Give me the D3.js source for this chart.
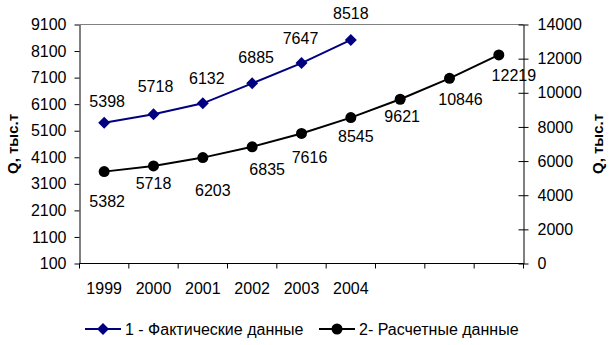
<!DOCTYPE html>
<html>
<head>
<meta charset="utf-8">
<script src="https://cdn.jsdelivr.net/npm/d3@7/dist/d3.min.js"></script>
<style>
  html, body { margin: 0; padding: 0; background: #fff; }
  svg { display: block; font-family: "Liberation Sans", Arial, sans-serif; }
</style>
</head>
<body>
<svg id="chart" width="612" height="345"></svg>
<script>
// Years on the category axis (last three are forecast years without labels)
const categories = ["1999", "2000", "2001", "2002", "2003", "2004", "2005", "2006", "2007"];
const xTickLabels = ["1999", "2000", "2001", "2002", "2003", "2004", "", "", ""];

// 1 - actual output (left axis), 2 - calculated output (right axis)
const actualValues = [5398, 5718, 6132, 6885, 7647, 8518];
const calculatedValues = [5382, 5718, 6203, 6835, 7616, 8545, 9621, 10846, 12219];

const leftTicks = [100, 1100, 2100, 3100, 4100, 5100, 6100, 7100, 8100, 9100];
const rightTicks = [0, 2000, 4000, 6000, 8000, 10000, 12000, 14000];

const seriesNames = ["1 - Фактические данные", "2- Расчетные данные"];
const axisTitle = "Q, тыс.т";

// Hand-placed data label offsets (dx, dy from the marker)
const actualLabelShift = [[3, -22], [2, -28], [4, -25], [4, -26], [-1, -25], [0, -27]];
const calcLabelShift = [[3, 30], [0, 17], [10, 33], [15, 22], [8, 24], [5, 19], [2, 17], [11, 21], [15, 20]];

const svg = d3.select("#chart");
const plot = { left: 79.5, right: 523.5, top: 24.5, bottom: 263.5 };

const x = d3.scaleBand().domain(categories).range([plot.left, plot.right]).padding(0);
const yL = d3.scaleLinear().domain([100, 9100]).range([plot.bottom, plot.top]);
const yR = d3.scaleLinear().domain([0, 14000]).range([plot.bottom, plot.top]);
const cx = d => x(d) + x.bandwidth() / 2;

const fontSize = 16;
const navy = "#000080";
const plain = d3.format("d");

// top border of the plot area
svg.append("line")
  .attr("x1", plot.left).attr("x2", plot.right)
  .attr("y1", plot.top).attr("y2", plot.top)
  .attr("stroke", "#808080").attr("stroke-width", 1);

// left axis
const gL = svg.append("g").attr("transform", `translate(${plot.left},0)`)
  .call(d3.axisLeft(yL).tickValues(leftTicks).tickFormat(plain)
    .tickSize(5).tickSizeOuter(0).tickPadding(8));
// right axis with crossing ticks
const gR = svg.append("g").attr("transform", `translate(${plot.right},0)`)
  .call(d3.axisRight(yR).tickValues(rightTicks).tickFormat(plain)
    .tickSize(5).tickSizeOuter(0).tickPadding(9));
gR.selectAll(".tick line").attr("x1", -5);

[gL, gR].forEach(g => {
  g.select(".domain").attr("stroke", "#000").attr("stroke-width", 1);
  g.selectAll(".tick line").attr("stroke", "#000");
  g.selectAll(".tick text").attr("fill", "#000")
    .style("font-size", fontSize + "px")
    .style("font-family", "'Liberation Sans', Arial, sans-serif");
});

// category axis: line, ticks on band boundaries, labels at band centers
const gX = svg.append("g");
gX.append("line")
  .attr("x1", plot.left).attr("x2", plot.right)
  .attr("y1", plot.bottom).attr("y2", plot.bottom)
  .attr("stroke", "#000");
const boundaries = categories.map(c => x(c)).concat([x(categories[categories.length - 1]) + x.bandwidth()]);
gX.selectAll("line.tk").data(boundaries).enter().append("line")
  .attr("class", "tk")
  .attr("x1", d => d).attr("x2", d => d)
  .attr("y1", plot.bottom).attr("y2", plot.bottom + 5)
  .attr("stroke", "#000");
gX.selectAll("text").data(categories).enter().append("text")
  .attr("x", d => cx(d))
  .attr("y", 294)
  .attr("text-anchor", "middle")
  .style("font-size", fontSize + "px")
  .text((d, i) => xTickLabels[i]);

// axis titles
svg.append("text")
  .attr("transform", `translate(17.5,${(plot.top + plot.bottom) / 2}) rotate(-90)`)
  .attr("text-anchor", "middle")
  .style("font-size", "15px").style("font-weight", "bold")
  .text(axisTitle);
svg.append("text")
  .attr("transform", `translate(603,${(plot.top + plot.bottom) / 2}) rotate(-90)`)
  .attr("text-anchor", "middle")
  .style("font-size", "15px").style("font-weight", "bold")
  .text(axisTitle);

const diamondPath = d3.symbol().type(d3.symbolSquare).size(72)();

// series 1 (actual, left axis)
const actual = actualValues.map((v, i) => ({ c: categories[i], v }));
svg.append("path")
  .datum(actual)
  .attr("fill", "none").attr("stroke", navy).attr("stroke-width", 2)
  .attr("d", d3.line().x(d => cx(d.c)).y(d => yL(d.v)));
svg.selectAll("path.m1").data(actual).enter().append("path")
  .attr("class", "m1")
  .attr("d", diamondPath)
  .attr("transform", d => `translate(${cx(d.c)},${yL(d.v)}) rotate(45)`)
  .attr("fill", navy);
svg.selectAll("text.l1").data(actual).enter().append("text")
  .attr("class", "l1")
  .attr("x", (d, i) => cx(d.c) + actualLabelShift[i][0])
  .attr("y", (d, i) => yL(d.v) + actualLabelShift[i][1])
  .attr("dy", "0.36em")
  .attr("text-anchor", "middle")
  .style("font-size", fontSize + "px")
  .text(d => d.v);

// series 2 (calculated, right axis)
const calc = calculatedValues.map((v, i) => ({ c: categories[i], v }));
svg.append("path")
  .datum(calc)
  .attr("fill", "none").attr("stroke", "#000").attr("stroke-width", 2)
  .attr("d", d3.line().x(d => cx(d.c)).y(d => yR(d.v)));
svg.selectAll("circle.m2").data(calc).enter().append("circle")
  .attr("class", "m2")
  .attr("cx", d => cx(d.c)).attr("cy", d => yR(d.v))
  .attr("r", 5.5).attr("fill", "#000");
svg.selectAll("text.l2").data(calc).enter().append("text")
  .attr("class", "l2")
  .attr("x", (d, i) => cx(d.c) + calcLabelShift[i][0])
  .attr("y", (d, i) => yR(d.v) + calcLabelShift[i][1])
  .attr("dy", "0.36em")
  .attr("text-anchor", "middle")
  .style("font-size", fontSize + "px")
  .text(d => d.v);

// legend
const legendY = 329;
const legend = [
  { x0: 85, name: seriesNames[0], color: navy, marker: "diamond" },
  { x0: 319, name: seriesNames[1], color: "#000", marker: "circle" }
];
legend.forEach(item => {
  const g = svg.append("g");
  g.append("line")
    .attr("x1", item.x0).attr("x2", item.x0 + 36)
    .attr("y1", legendY).attr("y2", legendY)
    .attr("stroke", item.color).attr("stroke-width", 2);
  if (item.marker === "diamond") {
    g.append("path")
      .attr("d", diamondPath)
      .attr("transform", `translate(${item.x0 + 18},${legendY}) rotate(45)`)
      .attr("fill", item.color);
  } else {
    g.append("circle")
      .attr("cx", item.x0 + 18).attr("cy", legendY).attr("r", 5.5)
      .attr("fill", item.color);
  }
  g.append("text")
    .attr("x", item.x0 + 40).attr("y", legendY)
    .attr("dy", "0.36em")
    .style("font-size", fontSize + "px")
    .text(item.name);
});
</script>
</body>
</html>
